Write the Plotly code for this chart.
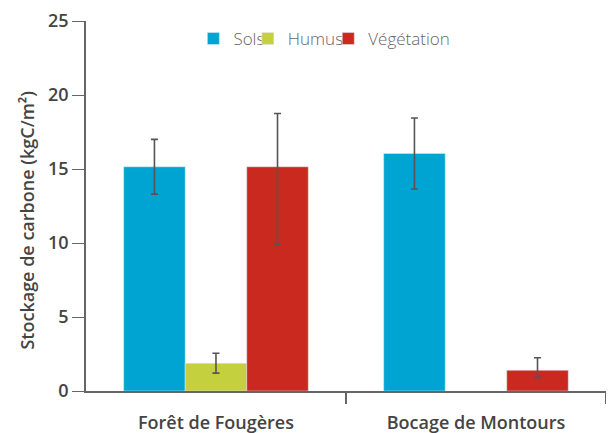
import plotly.graph_objects as go

categories = ["Forêt de Fougères", "Bocage de Montours"]
series_names = ["Sols", "Humus", "Végétation"]
sols = [15.15, 16.05]
sols_err = [1.85, 2.4]
humus = [1.88, None]
humus_err = [0.67, None]
veg = [15.15, 1.4]
veg_err_plus = [3.6, 0.85]
veg_err_minus = [5.25, 0.48]
colors = ["#00a4d3", "#c4d03d", "#c9291f"]
y_ticks = [0, 5, 10, 15, 20, 25]
y_title = "Stockage de carbone (kgC/m²)"

err_style = dict(color="#555555", thickness=1.6, width=3.5)

fig = go.Figure()
fig.add_trace(go.Bar(name=series_names[0], x=categories, y=sols, marker_color=colors[0],
                     legend="legend",
                     error_y=dict(type="data", array=sols_err, **err_style)))
fig.add_trace(go.Bar(name=series_names[1], x=categories, y=humus, marker_color=colors[1],
                     legend="legend2",
                     error_y=dict(type="data", array=humus_err, **err_style)))
fig.add_trace(go.Bar(name=series_names[2], x=categories, y=veg, marker_color=colors[2],
                     legend="legend3",
                     error_y=dict(type="data", symmetric=False, array=veg_err_plus,
                                  arrayminus=veg_err_minus, **err_style)))

leg_font = dict(family="Open Sans", size=17, color="#666666", weight=300)
leg_common = dict(orientation="h", y=1.0, xanchor="left", yanchor="top", font=leg_font,
                  itemwidth=30, bgcolor="rgba(0,0,0,0)")

fig.update_layout(
    width=614, height=433,
    margin=dict(l=77.5, r=16, t=12.5, b=49.5),
    plot_bgcolor="white", paper_bgcolor="white",
    barmode="group", bargap=0.29, bargroupgap=0,
    font=dict(family="Open Sans", color="#444444"),
    legend=dict(x=0.2065, **leg_common),
    legend2=dict(x=0.3112, **leg_common),
    legend3=dict(x=0.4659, **leg_common),
    showlegend=True,
    annotations=[dict(text=y_title, textangle=-90, xref="paper", yref="paper",
                      x=0, y=0.462, xanchor="center", yanchor="middle", xshift=-58.5,
                      showarrow=False, font=dict(size=18, weight=600, color="#444444"))],
)
fig.update_xaxes(
    range=[-0.4999, 1.5001], tickson="boundaries", ticks="outside", ticklen=11,
    tickcolor="#666666", tickwidth=1.5, showline=True, linecolor="#666666", linewidth=1.5,
    showgrid=False, tickfont=dict(size=18, weight=600, color="#444444"),
    ticklabelstandoff=15, automargin=False,
)
fig.update_yaxes(
    range=[0, 25], tickvals=y_ticks, ticks="outside", ticklen=12, tickcolor="#666666",
    tickwidth=1.2, showline=True, linecolor="#666666", linewidth=1.5, showgrid=False,
    zeroline=False, tickfont=dict(size=18, weight=600, color="#444444"), automargin=False,
)

fig.write_html("out.html")
